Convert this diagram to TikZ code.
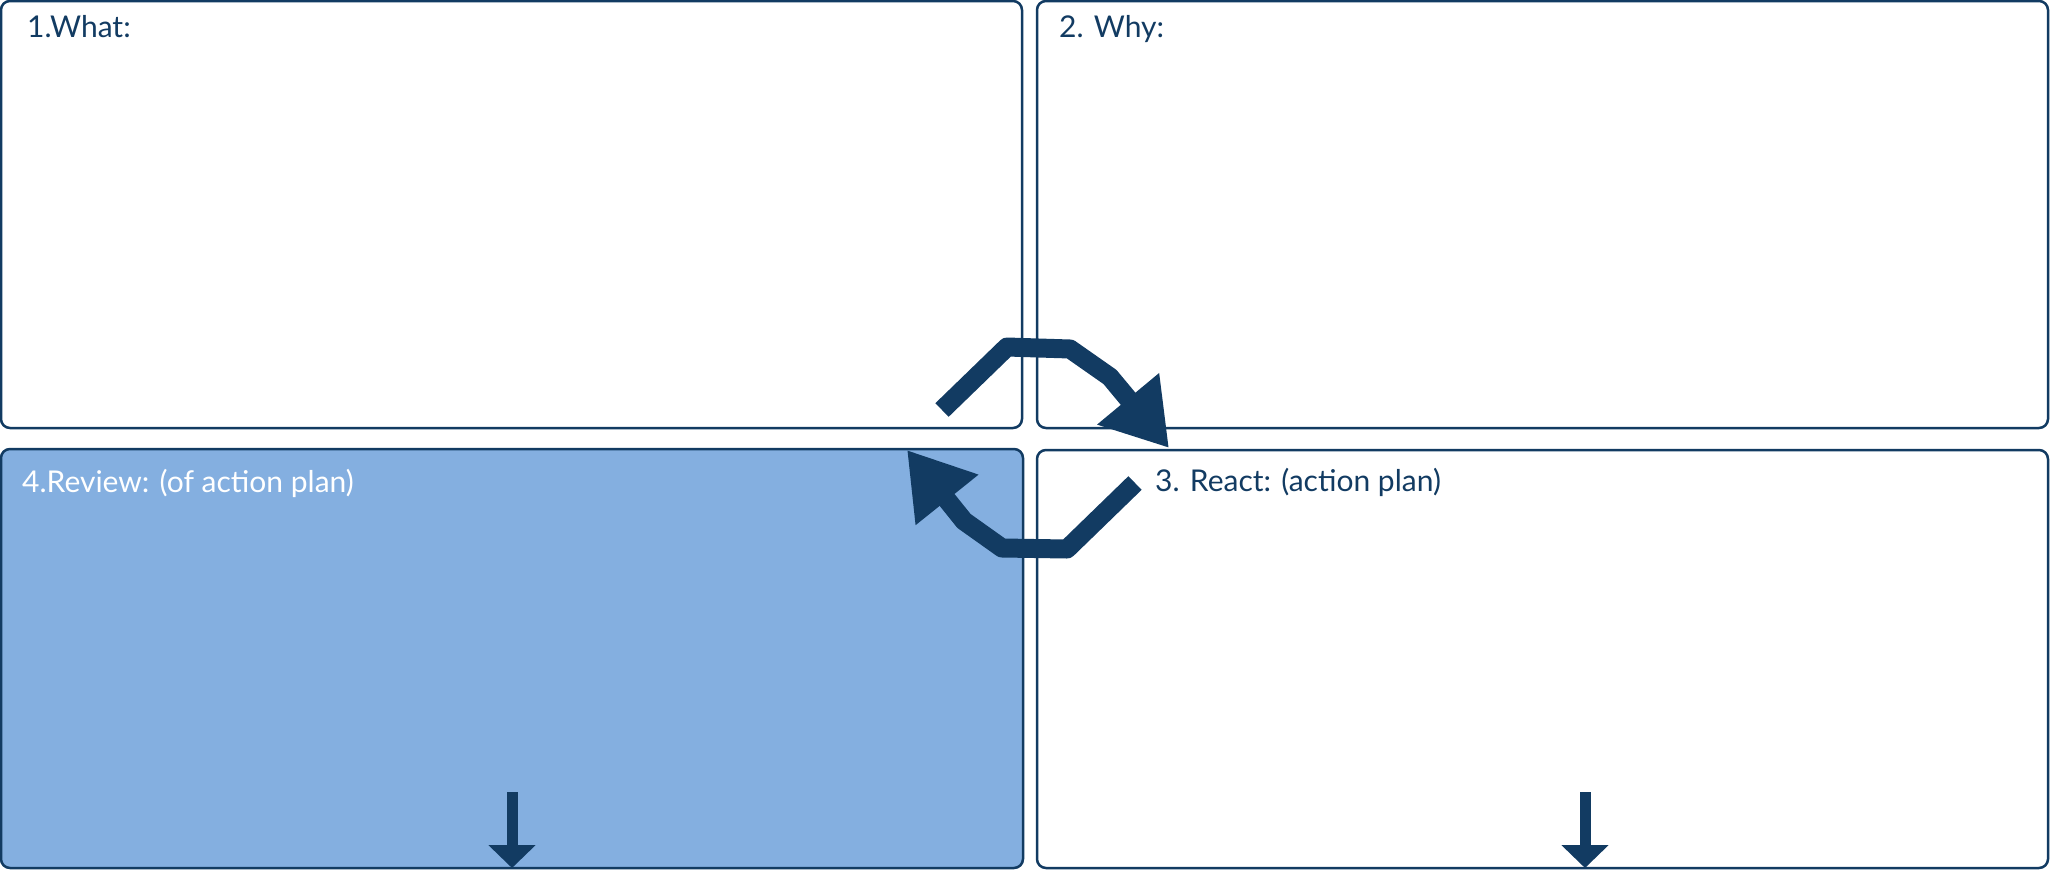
\documentclass[tikz,border=0pt]{standalone}
\usepackage{fontspec}
\setmainfont{Lato}
\usetikzlibrary{positioning,arrows.meta}
\definecolor{navy}{RGB}{18,59,98}
\definecolor{paleblue}{RGB}{132,175,224}
\tikzset{>={Triangle[length=64pt,width=76pt]}}
\tikzset{panel/.style={rectangle,rounded corners=9pt,draw=navy,line width=2.5pt,inner sep=0pt,outer sep=0pt,anchor=north west},
  heading/.style={anchor=base west,inner sep=0pt,text=navy,font=\fontsize{30}{36}\selectfont},
  cyclearrow/.style={->,navy,line width=19pt,line join=round},
  droparrow/.style={-{Triangle[length=23pt,width=46pt]},navy,line width=11pt}}

\begin{document}
\begin{tikzpicture}[x=1pt,y=-1pt]
        \useasboundingbox (0,0) rectangle (2053,870);
        \node[panel,minimum width=1021pt,minimum height=427pt] (what) at (1,1) {};
        \node[panel,minimum width=1011pt,minimum height=427pt] (why) at (1037,1) {};
        \node[panel,fill=paleblue,minimum width=1022pt,minimum height=419pt] (review) at (1,449) {};
        \node[panel,minimum width=1011pt,minimum height=418pt] (react) at (1037,450) {};
        \node[heading] (whatlabel) at (27,37) {1.What:};
        \node[heading] (whylabel) at (1059,37) {2. Why:};
        \node[heading,text=white] (reviewlabel) at (22,492) {4.Review: (of action plan)};
        \node[heading] (reactlabel) at (1155,491) {3. React: (action plan)};
        \coordinate (whatout) at (942,410);
        \coordinate (reactin) at (1169,448);
        \coordinate (reactout) at (1135,483);
        \coordinate (reviewin) at (907,450);
        \draw[cyclearrow] (whatout) -- (1007,347) -- (1070,349) -- (1110,377) -- (reactin);
        \draw[cyclearrow] (reactout) -- (1067,549) -- (1002,548) -- (964,521) -- (reviewin);
        \coordinate (reviewdrop) at (512,792);
        \coordinate (reactdrop) at (1585,792);
        \draw[droparrow] (reviewdrop) -- (reviewdrop |- review.south);
        \draw[droparrow] (reactdrop) -- (reactdrop |- react.south);
    \end{tikzpicture}
\end{document}
